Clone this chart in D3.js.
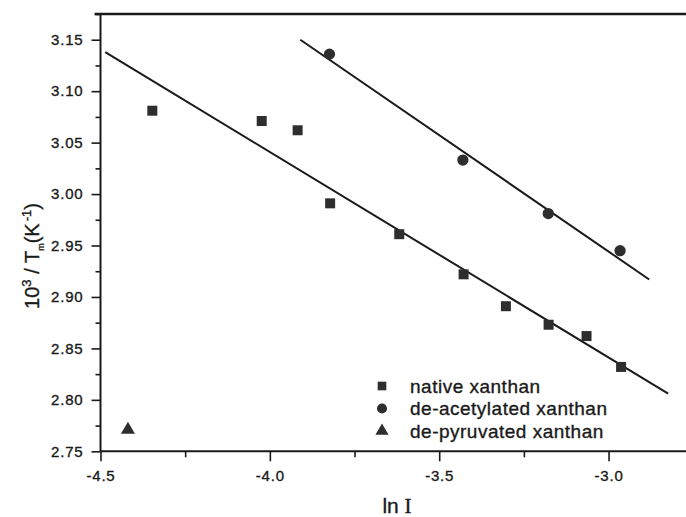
<!DOCTYPE html>
<html>
<head>
<meta charset="utf-8">
<script src="https://cdn.jsdelivr.net/npm/d3@7"></script>
<style>
  html, body { margin: 0; padding: 0; background: #fff; }
  svg { display: block; }
  text { font-family: "Liberation Sans", Arial, sans-serif; fill: #1a1a1a; stroke: #1a1a1a; stroke-width: 0.35px; }
</style>
</head>
<body>
<svg id="chart" width="686" height="517"></svg>
<script>
// ln I values and 10^3/Tm for each xanthan sample
const nativeX = [-4.347, -4.024, -3.918, -3.822, -3.618, -3.428, -3.303, -3.177, -3.065, -2.963];
const nativeY = [3.081, 3.071, 3.062, 2.991, 2.961, 2.922, 2.891, 2.873, 2.862, 2.832];
const deacetX = [-3.824, -3.430, -3.178, -2.966];
const deacetY = [3.136, 3.033, 2.981, 2.945];
const depyrX = [-4.419];
const depyrY = [2.770];

// linear fits: start and end points of each regression line
const fitNativeX = [-4.486, -2.824];
const fitNativeY = [3.138, 2.806];
const fitDeacetX = [-3.910, -2.880];
const fitDeacetY = [3.150, 2.917];

const xTicks = [-4.5, -4.0, -3.5, -3.0];
const xTickLabels = ["-4.5", "-4.0", "-3.5", "-3.0"];
const yTicks = [2.75, 2.80, 2.85, 2.90, 2.95, 3.00, 3.05, 3.10, 3.15];
const yTickLabels = ["2.75", "2.80", "2.85", "2.90", "2.95", "3.00", "3.05", "3.10", "3.15"];
const legendLabels = ["native xanthan", "de-acetylated xanthan", "de-pyruvated xanthan"];

const svg = d3.select("#chart");
const plotLeft = 100.5, plotBottom = 451.3, plotTop = 14;

const x = d3.scaleLinear().domain([-4.5, -2.75]).range([plotLeft, plotLeft + 1.75 * 338.7]);
const y = d3.scaleLinear().domain([2.75, 3.175]).range([plotBottom, plotTop]);

const ink = "#1a1a1a";
const markFill = "#2e2e2e";

// minor ticks
const xMinor = d3.range(-4.25, -2.7, 0.5);
const yMinor = d3.range(2.775, 3.176, 0.05);

// x axis
const xAxis = svg.append("g").attr("transform", `translate(0,${plotBottom})`);
xAxis.append("g").call(d3.axisBottom(x).tickValues(xMinor).tickSize(6).tickFormat(""))
  .call(g => g.select(".domain").remove());
xAxis.append("g").call(d3.axisBottom(x).tickValues(xTicks).tickSize(10).tickPadding(9)
    .tickFormat((d, i) => xTickLabels[i]))
  .call(g => g.select(".domain").remove());
xAxis.selectAll("line").attr("stroke", ink).attr("stroke-width", 1.6);
xAxis.selectAll("text").attr("font-size", 15).style("letter-spacing", "0.8px").attr("fill", ink);

// y axis
const yAxis = svg.append("g").attr("transform", `translate(${plotLeft},0)`);
yAxis.append("g").call(d3.axisLeft(y).tickValues(yMinor).tickSize(5).tickFormat(""))
  .call(g => g.select(".domain").remove());
yAxis.append("g").call(d3.axisLeft(y).tickValues(yTicks).tickSize(9).tickPadding(8)
    .tickFormat((d, i) => yTickLabels[i]))
  .call(g => g.select(".domain").remove());
yAxis.selectAll("line").attr("stroke", ink).attr("stroke-width", 1.6);
yAxis.selectAll("text").attr("font-size", 15).style("letter-spacing", "0.8px").attr("fill", ink);

// frame lines: left, bottom, top
svg.append("line").attr("x1", plotLeft).attr("x2", plotLeft).attr("y1", plotTop).attr("y2", plotBottom)
  .attr("stroke", ink).attr("stroke-width", 2);
svg.append("line").attr("x1", plotLeft).attr("x2", 686).attr("y1", plotBottom).attr("y2", plotBottom)
  .attr("stroke", ink).attr("stroke-width", 2);
svg.append("line").attr("x1", plotLeft - 6).attr("x2", 686).attr("y1", plotTop).attr("y2", plotTop)
  .attr("stroke", ink).attr("stroke-width", 2.4);

// regression lines
const line = d3.line().x(d => x(d[0])).y(d => y(d[1]));
svg.append("path").datum(d3.zip(fitNativeX, fitNativeY)).attr("d", line)
  .attr("fill", "none").attr("stroke", ink).attr("stroke-width", 2);
svg.append("path").datum(d3.zip(fitDeacetX, fitDeacetY)).attr("d", line)
  .attr("fill", "none").attr("stroke", ink).attr("stroke-width", 2);

// markers
const sqSym = d3.symbol().type(d3.symbolSquare).size(100);
const ciSym = d3.symbol().type(d3.symbolCircle).size(100);
const trSym = d3.symbol().type(d3.symbolTriangle).size(85);

svg.append("g").selectAll("path").data(d3.zip(nativeX, nativeY)).join("path")
  .attr("d", sqSym).attr("transform", d => `translate(${x(d[0])},${y(d[1])})`).attr("fill", markFill);
svg.append("g").selectAll("path").data(d3.zip(deacetX, deacetY)).join("path")
  .attr("d", ciSym).attr("transform", d => `translate(${x(d[0])},${y(d[1])})`).attr("fill", markFill);
svg.append("g").selectAll("path").data(d3.zip(depyrX, depyrY)).join("path")
  .attr("d", trSym).attr("transform", d => `translate(${x(d[0])},${y(d[1]) - 1})`).attr("fill", markFill);

// legend
const legend = svg.append("g").attr("transform", "translate(382,386)");
const legSyms = [
  d3.symbol().type(d3.symbolSquare).size(75),
  d3.symbol().type(d3.symbolCircle).size(80),
  d3.symbol().type(d3.symbolTriangle).size(75)
];
legendLabels.forEach((lab, i) => {
  const row = legend.append("g").attr("transform", `translate(0,${i * 22.5})`);
  row.append("path").attr("d", legSyms[i]).attr("fill", markFill);
  row.append("text").attr("x", 28).attr("y", 6.5).attr("font-size", 19)
    .style("letter-spacing", "0.5px").text(lab);
});

// axis titles
svg.append("text").attr("x", 397).attr("y", 513).attr("text-anchor", "middle")
  .attr("font-size", 21)
  .call(t => {
    t.append("tspan").text("ln ");
    t.append("tspan").attr("font-family", "'Liberation Serif', 'Times New Roman', serif").text("I");
  });

const yTitle = svg.append("text").attr("transform", "translate(39,256) rotate(-90)")
  .attr("text-anchor", "middle").attr("font-size", 20);
yTitle.append("tspan").text("10");
yTitle.append("tspan").attr("font-size", 13).attr("dy", -8).text("3");
yTitle.append("tspan").attr("dy", 8).text(" / T");
yTitle.append("tspan").attr("font-size", 9).attr("dy", 5).text("m");
yTitle.append("tspan").attr("dy", -5).text("(K");
yTitle.append("tspan").attr("font-size", 13).attr("dy", -8).attr("dx", 2).text("-1");
yTitle.append("tspan").attr("dy", 8).text(")");
</script>
</body>
</html>
